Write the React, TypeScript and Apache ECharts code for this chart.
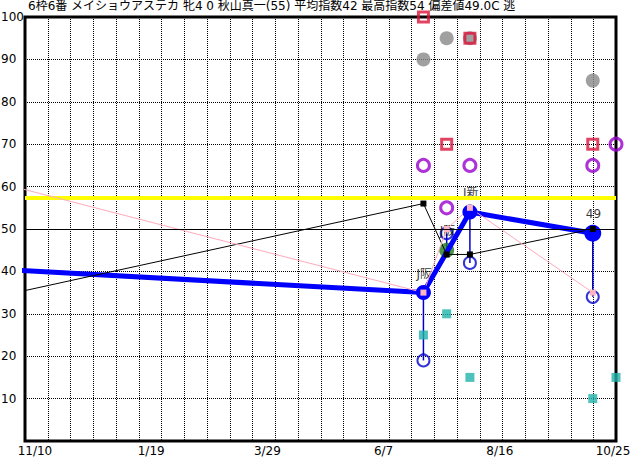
import React, { useEffect, useRef } from 'react';
import * as echarts from 'echarts';

const titleText = '6枠6番 メイショウアステカ 牝4 0 秋山真一(55) 平均指数42 最高指数54 偏差値49.0C 逃';

// x axis: days counted from 11/10
const dateLabels = ['11/10', '1/19', '3/29', '6/7', '8/16', '10/25'];
const labelDays = [0, 70, 140, 210, 280, 350];
const xMin = -6;
const xMax = 350;
const gridSteps = 26;
const gridLineIndex = Array.from({ length: gridSteps - 1 }, (_, i) => i + 1);

// race days (past races) and the next race day
const prevDay = -21; // earlier race, just off the left edge
const raceDays = [234, 248, 262, 336];

// main index line (thick blue)
const indexDays = [prevDay, 234, 262, 336];
const indexValues = [40.5, 35, 54, 49];
// green point
const greenDays = [248];
const greenValues = [45];
// labels above each race point
const raceLabels = ['J阪', 'J阪', 'J新', '49'];
const raceLabelValues = [35, 45, 54, 49];
// range (thin blue vertical line to open circle)
const rangeTop = [35, 45, 54, 49];
const rangeLow = [19, 49, 42, 34];

// pink line
const pinkDays = [prevDay, 234, 248, 262, 336];
const pinkValues = [60.8, 35, 50, 55, 35];
// black line
const blackDays = [prevDay, 234, 248, 262, 336];
const blackValues = [34.2, 56, 44, 44, 50];

const grayValues = [90, 95, 95, 85];
const crimsonValues = [100, 70, 95, 70];
const purpleDays = [234, 248, 262, 336, 350];
const purpleValues = [65, 55, 65, 65, 70];
const tealDays = [234, 248, 262, 336, 350];
const tealValues = [25, 30, 15, 10, 15];

const baseLevel = 57.3;

const zip = (xs: number[], ys: number[]) => xs.map((x, i) => [x, ys[i]]);

export default function App() {
  const ref = useRef<HTMLDivElement>(null);
  useEffect(() => {
    if (!ref.current) return;
    const chart = echarts.init(ref.current, null, { renderer: 'svg' });
    const font = 'DejaVu Sans, Noto Sans CJK JP, sans-serif';
    const dotted = { color: '#000', width: 1, type: [1, 1] as any };
    const option: any = {
      animation: false,
      backgroundColor: '#fff',
      title: {
        text: titleText,
        left: 28,
        top: 0,
        padding: 0,
        textStyle: { fontSize: 12, fontWeight: 'normal', color: '#000', fontFamily: font },
      },
      grid: {
        left: 25,
        top: 17,
        right: 16,
        bottom: 19,
        show: true,
        borderColor: '#000',
        borderWidth: 3,
        backgroundColor: 'transparent',
        outerBoundsMode: 'none',
        containLabel: false,
      },
      xAxis: [
        {
          type: 'value',
          min: xMin,
          max: xMax,
          axisLine: { show: false },
          axisTick: { show: false },
          splitLine: { show: false },
          axisLabel: {
            customValues: labelDays,
            formatter: (v: number) => {
              const i = labelDays.indexOf(v);
              if (i < 0) return '';
              return i === labelDays.length - 1 ? '{last|' + dateLabels[i] + '}' : dateLabels[i];
            },
            rich: {
              last: { fontSize: 12, fontFamily: font, color: '#000', padding: [0, 6, 0, 0] },
            },
            fontSize: 12,
            fontFamily: font,
            color: '#000',
            margin: 4,
          },
        },
        {
          type: 'value',
          min: 0,
          max: gridSteps,
          show: false,
          splitLine: { show: false },
        },
      ],
      yAxis: {
        type: 'value',
        min: 0,
        max: 100,
        interval: 10,
        axisLine: { show: false },
        axisTick: { show: false },
        splitLine: { show: true, lineStyle: dotted },
        axisLabel: {
          formatter: (v: number) => (v === 0 ? '' : String(v)),
          fontSize: 12,
          fontFamily: font,
          color: '#000',
          align: 'left',
          margin: 24,
        },
      },
      series: [
        {
          type: 'custom',
          xAxisIndex: 1,
          silent: true,
          data: gridLineIndex.map((g) => [g, 0]),
          renderItem: (params: any, api: any) => {
            const cs = params.coordSys;
            const p = api.coord([api.value(0), 0]);
            const x = Math.round(p[0]) + 0.5;
            return {
              type: 'line',
              shape: { x1: x, y1: cs.y, x2: x, y2: cs.y + cs.height },
              style: { stroke: '#000', lineWidth: 1, lineDash: [1, 1] },
            };
          },
        },
        {
          type: 'line',
          data: [[xMin, baseLevel], [xMax, baseLevel]],
          symbol: 'none',
          lineStyle: { color: '#ffff00', width: 4 },
          silent: true,
          markLine: {
            silent: true,
            symbol: 'none',
            label: { show: false },
            lineStyle: { color: '#000', width: 1, type: 'solid' },
            data: [{ yAxis: 50 }],
          },
        },
        {
          type: 'scatter',
          data: zip(raceDays, grayValues),
          symbol: 'circle',
          symbolSize: 14,
          itemStyle: { color: '#888888' },
        },
        {
          type: 'scatter',
          data: zip(raceDays, crimsonValues),
          symbol: 'rect',
          symbolSize: 10,
          itemStyle: { color: 'rgba(0,0,0,0)', borderColor: '#dc143c', borderWidth: 3 },
        },
        {
          type: 'scatter',
          data: zip(purpleDays, purpleValues),
          symbol: 'circle',
          symbolSize: 12,
          itemStyle: { color: 'rgba(0,0,0,0)', borderColor: '#9900cc', borderWidth: 3 },
        },
        {
          type: 'scatter',
          data: zip(tealDays, tealValues),
          symbol: 'rect',
          symbolSize: 9,
          itemStyle: { color: '#20b2aa' },
        },
        {
          type: 'custom',
          data: raceDays.map((d, i) => [d, rangeTop[i], rangeLow[i]]),
          renderItem: (params: any, api: any) => {
            const a = api.coord([api.value(0), api.value(1)]);
            const b = api.coord([api.value(0), api.value(2)]);
            return {
              type: 'line',
              shape: { x1: a[0], y1: a[1], x2: b[0], y2: b[1] },
              style: { stroke: '#0000cc', lineWidth: 1.5 },
            };
          },
        },
        {
          type: 'line',
          clip: false,
          data: indexDays.map((d, i) => ({
            value: [d, indexValues[i]],
            symbol: i === 0 ? 'none' : 'circle',
            symbolSize: i === indexDays.length - 1 ? 17 : 15,
          })),
          lineStyle: { color: '#0000ff', width: 5 },
          itemStyle: { color: '#0000ff' },
        },
        {
          type: 'scatter',
          data: zip(greenDays, greenValues),
          symbol: 'circle',
          symbolSize: 15,
          itemStyle: { color: '#1e7b1e' },
        },
        {
          type: 'scatter',
          data: zip(raceDays, rangeLow),
          symbol: 'circle',
          symbolSize: 12,
          itemStyle: { color: 'rgba(0,0,0,0)', borderColor: '#0000cc', borderWidth: 2 },
        },
        {
          type: 'line',
          clip: false,
          data: blackDays.map((d, i) => ({
            value: [d, blackValues[i]],
            symbol: i === 0 ? 'none' : 'rect',
          })),
          symbolSize: 6,
          lineStyle: { color: '#000', width: 1 },
          itemStyle: { color: '#000' },
        },
        {
          type: 'line',
          clip: false,
          data: pinkDays.map((d, i) => ({
            value: [d, pinkValues[i]],
            symbol: i === 0 ? 'none' : 'rect',
          })),
          symbolSize: 6,
          lineStyle: { color: '#ffaabb', width: 1 },
          itemStyle: { color: '#ffb6c1' },
        },
        {
          type: 'scatter',
          data: raceDays.map((d, i) => ({ value: [d, raceLabelValues[i]], name: raceLabels[i] })),
          symbol: 'circle',
          symbolSize: 1,
          itemStyle: { color: 'rgba(0,0,0,0)' },
          label: {
            show: true,
            position: 'inside',
            formatter: (p: any) => p.name,
            align: 'left',
            verticalAlign: 'middle',
            offset: [-7, -19],
            fontSize: 12,
            fontFamily: font,
            color: '#000',
          },
        },
      ],
    };
    chart.setOption(option);
    return () => chart.dispose();
  }, []);
  return (
    <div
      ref={ref}
      style={{ position: 'absolute', left: 0, top: 0, width: 632, height: 460, background: '#fff' }}
    />
  );
}
